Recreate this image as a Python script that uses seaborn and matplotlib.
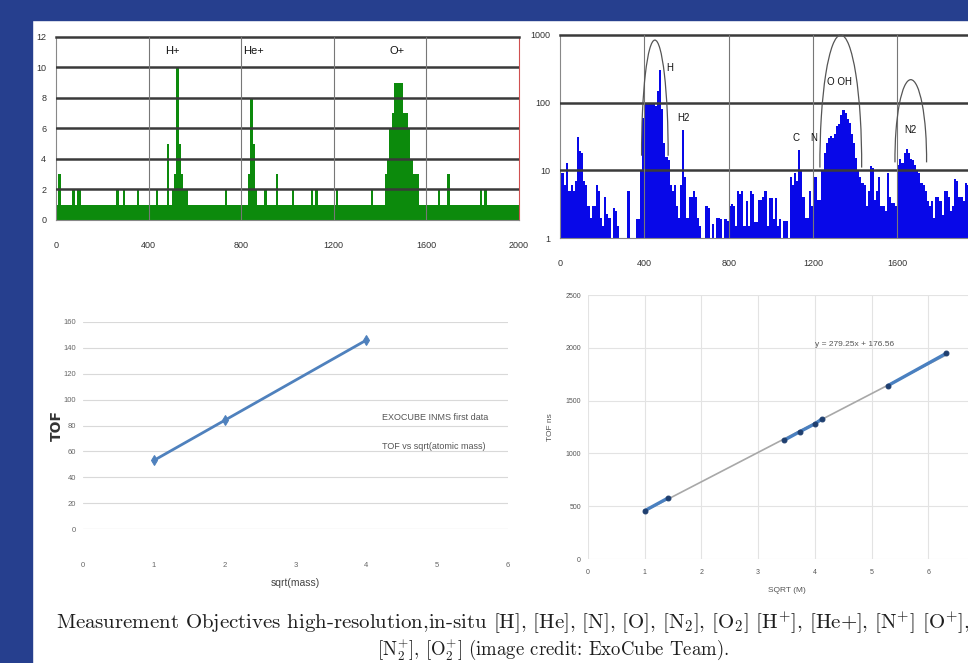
import numpy as np
import pandas as pd
import matplotlib
matplotlib.use('Agg')
import matplotlib.pyplot as plt
from matplotlib.patches import Rectangle, Arc
from matplotlib.ticker import NullLocator
import seaborn as sns

W, H = 968, 663

# ---- top left: ion spectrum, counts per 10-unit channel (0..2000)
ion_counts = [
    1, 3, 1, 1, 1, 1, 1, 2, 1, 2, 2, 1, 1, 1, 1, 1, 1, 1, 1, 1,
    1, 1, 1, 1, 1, 1, 2, 1, 1, 2, 1, 1, 1, 1, 1, 2, 1, 1, 1, 1,
    1, 1, 1, 2, 1, 1, 1, 1, 5, 1, 2, 3, 10, 5, 3, 2, 2, 1, 1, 1,
    1, 1, 1, 1, 1, 1, 1, 1, 1, 1, 1, 1, 1, 2, 1, 1, 1, 1, 1, 1,
    1, 1, 1, 3, 8, 5, 2, 1, 1, 1, 2, 1, 1, 1, 1, 3, 1, 1, 1, 1,
    1, 1, 2, 1, 1, 1, 1, 1, 1, 1, 2, 1, 2, 1, 1, 1, 1, 1, 1, 1,
    1, 2, 1, 1, 1, 1, 1, 1, 1, 1, 1, 1, 1, 1, 1, 1, 2, 1, 1, 1,
    1, 1, 3, 4, 6, 7, 9, 9, 9, 9, 7, 7, 6, 4, 3, 3, 3, 1, 1, 1,
    1, 1, 1, 1, 1, 2, 1, 1, 1, 3, 1, 1, 1, 1, 1, 1, 1, 1, 1, 1,
    1, 1, 1, 2, 1, 2, 1, 1, 1, 1, 1, 1, 1, 1, 1, 1, 1, 1, 1, 1,
]
ion_labels = ['H+', 'He+', 'O+']
ion_label_x = [501, 851, 1473]

# ---- top right: neutral spectrum (log scale), counts per 10-unit channel
neutral_counts = [
    9, 9, 6, 13, 5, 6, 5, 7, 31, 19, 18, 7, 6, 3, 2, 3, 3, 6, 5, 2,
    1.5, 4, 2.3, 2, 1, 2.8, 2.5, 1.5, 1, 1, 1, 1, 5, 1, 1, 1, 1.9, 1.9, 10, 60,
    100, 100, 95, 100, 95, 90, 150, 300, 80, 25, 16, 14, 6, 5, 6, 3, 2, 6, 40, 8,
    2, 4, 4, 5, 4, 2, 1.5, 1, 1, 3, 2.8, 1, 1.6, 1, 2, 2, 1.9, 1, 1.9, 1.8,
    3, 3.2, 3, 1.5, 4.9, 4.5, 5, 1.5, 3.5, 1.5, 5, 4.5, 1.7, 1.7, 3.7, 3.7, 4, 4.9, 1.5, 3.9,
    3.9, 1.9, 3.9, 1.5, 1.9, 1, 1.8, 1.8, 1, 8, 6, 9, 7, 20, 10, 4, 2, 2, 5, 3,
    8, 8, 3.7, 3.7, 10, 18, 25, 30, 32, 30, 35, 45, 48, 65, 78, 70, 57, 50, 35, 25,
    15, 10, 8, 6.5, 6, 3, 5, 11.6, 11, 3.7, 5, 8, 3, 3, 2.5, 9.2, 4, 3.3, 3.3, 3,
    12, 14.5, 13, 18, 20.5, 18, 14.5, 14, 12, 10, 9, 6.5, 6, 5, 3.5, 3, 3.5, 2, 4, 4,
    3.5, 2.2, 5, 5, 4, 2.5, 3, 7.4, 7, 4, 4, 3.5, 6.5, 6,
]
neutral_labels = ['H', 'H2', 'C', 'N', 'O OH', 'N2']
neutral_label_x = [522, 584, 1118, 1202, 1328, 1660]
neutral_label_y = [330, 60, 30, 30, 205, 40]

# ---- bottom left: first INMS data
inms_sqrt_mass = [1, 2, 4]
inms_tof = [53, 84, 146]

# ---- bottom right: calibration
cal_sqrt_mass = [1.0, 1.41, 3.46, 3.74, 4.0, 4.12, 5.29, 6.32]
cal_tof = [457, 577, 1125, 1207, 1280, 1324, 1642, 1948]
cal_group = [0, 0, 1, 1, 1, 1, 2, 2]

sns.set_style('white')
plt.rcParams['font.family'] = ['Liberation Sans', 'DejaVu Sans']
plt.rcParams['mathtext.fontset'] = 'cm'


def box(l, t, r, b):
    return [l / W, 1 - b / H, (r - l) / W, (b - t) / H]


fig = plt.figure(figsize=(9.68, 6.63), dpi=100)
fig.patch.set_facecolor('white')
frame = '#263f8e'
fig.add_artist(Rectangle((0, 1 - 20 / H), 1, 20 / H, transform=fig.transFigure,
                         color=frame, zorder=0))
fig.add_artist(Rectangle((0, 0), 32 / W, 1, transform=fig.transFigure,
                         color=frame, zorder=0))

ion_df = pd.DataFrame({'channel': np.arange(len(ion_counts)) * 10 + 5,
                       'counts': ion_counts})
neutral_df = pd.DataFrame({'channel': np.arange(len(neutral_counts)) * 10 + 5,
                           'counts': neutral_counts})

# ======== panel 1: ion spectrum
ax1 = fig.add_axes(box(56, 37, 519, 220))
sns.histplot(data=ion_df, x='channel', weights='counts', binwidth=10,
             binrange=(0, 2000), color='#0c8a0c', alpha=1, linewidth=0, ax=ax1)
ax1.set_xlim(0, 2000)
ax1.set_ylim(0, 12)
ax1.set_xticks(range(0, 2001, 400))
ax1.set_yticks(range(0, 13, 2))
for y in range(2, 12, 2):
    ax1.axhline(y, color='#3a3a3a', lw=1.8, zorder=3)
for x in range(400, 2000, 400):
    ax1.axvline(x, color='#777777', lw=0.8, zorder=3)
ax1.set_xlabel('')
ax1.set_ylabel('')
ax1.spines['top'].set_color('#3a3a3a')
ax1.spines['top'].set_linewidth(1.8)
ax1.spines['right'].set_color('#d05050')
ax1.spines['right'].set_linewidth(0.8)
for s in ['left', 'bottom']:
    ax1.spines[s].set_color('#888888')
    ax1.spines[s].set_linewidth(0.8)
ax1.tick_params(labelsize=6.5, colors='#333333', length=3, width=0.6, pad=12)
ax1.tick_params(axis='y', pad=4)
for lab, x in zip(ion_labels, ion_label_x):
    ax1.text(x, 11.1, lab, ha='center', va='center', fontsize=8,
             color='#111111')

# ======== panel 2: neutral spectrum (log)
ax2 = fig.add_axes(box(560, 35, 560 + 421.6, 238))
sns.histplot(data=neutral_df, x='channel', weights='counts', binwidth=10,
             binrange=(0, 2000), color='#0808e8', alpha=1, linewidth=0, ax=ax2)
ax2.set_yscale('log')
ax2.set_xlim(0, 2000)
ax2.set_ylim(1, 1000)
ax2.set_yticks([1, 10, 100, 1000])
ax2.set_yticklabels(['1', '10', '100', '1000'])
ax2.yaxis.set_minor_locator(NullLocator())
ax2.set_xticks(range(0, 1601, 400))
for y in [10, 100]:
    ax2.axhline(y, color='#3a3a3a', lw=1.8, zorder=3)
for x in range(400, 2000, 400):
    ax2.axvline(x, color='#777777', lw=0.8, zorder=3)
ax2.set_xlabel('')
ax2.set_ylabel('')
ax2.spines['top'].set_color('#3a3a3a')
ax2.spines['top'].set_linewidth(1.8)
ax2.spines['right'].set_visible(False)
for s in ['left', 'bottom']:
    ax2.spines[s].set_color('#888888')
    ax2.spines[s].set_linewidth(0.8)
ax2.tick_params(labelsize=6.5, colors='#333333', length=3, width=0.6, pad=12)
ax2.tick_params(axis='y', pad=4)
# circled peak groups (axes fraction coords)
for cx, cy, w, h in [(0.225, 0.42, 0.063, 1.11),
                     (0.666, 0.37, 0.099, 1.26),
                     (0.832, 0.39, 0.075, 0.78)]:
    ax2.add_patch(Arc((cx, cy), w, h, theta1=-25, theta2=205,
                      transform=ax2.transAxes, color='#555555', lw=0.9,
                      zorder=4, clip_on=False))
for lab, x, y in zip(neutral_labels, neutral_label_x, neutral_label_y):
    ax2.text(x, y, lab, ha='center', va='center', fontsize=7,
             color='#111111', zorder=5)

# ======== panel 3: first data TOF vs sqrt(mass)
ax3 = fig.add_axes(box(83, 322, 508, 529))
sns.lineplot(x=inms_sqrt_mass, y=inms_tof, color='#4f81bd', lw=2,
             marker='d', markersize=5, markeredgecolor='#4f81bd', ax=ax3)
ax3.set_xlim(0, 6)
ax3.set_ylim(0, 160)
ax3.set_xticks(range(0, 7))
ax3.set_yticks(range(0, 161, 20))
ax3.yaxis.grid(True, color='#d9d9d9', lw=0.8)
ax3.set_axisbelow(True)
for s in ax3.spines.values():
    s.set_visible(False)
ax3.axhline(0, color='#cfcfcf', lw=0.8, zorder=0)
ax3.tick_params(labelsize=5.5, colors='#666666', length=0, pad=5)
ax3.tick_params(axis='x', pad=24)
ax3.set_ylabel('TOF', fontsize=10, fontweight='bold', family='DejaVu Sans',
               color='#333333', labelpad=0)
ax3.set_xlabel('sqrt(mass)', fontsize=7.5, color='#444444', labelpad=6)
ax3.text(4.22, 86, 'EXOCUBE INMS first data', fontsize=6.5, color='#555555',
         va='center')
ax3.text(4.22, 64, 'TOF vs sqrt(atomic mass)', fontsize=6.5, color='#555555',
         va='center')

# ======== panel 4: calibration fit
ax4 = fig.add_axes(box(588, 295, 588 + 7 * 56.7, 559))
sns.regplot(x=cal_sqrt_mass, y=cal_tof, scatter=False, ci=None,
            truncate=True, color='#a8a8a8', line_kws={'lw': 1.2}, ax=ax4)
sns.lineplot(x=cal_sqrt_mass, y=cal_tof, units=cal_group, estimator=None,
             color='#4a80c0', lw=2.4, marker='o', markersize=3.5,
             markeredgecolor='#1f3f6f', markerfacecolor='#1f3f6f', ax=ax4)
ax4.set_xlim(0, 7)
ax4.set_ylim(0, 2500)
ax4.set_xticks(range(0, 7))
ax4.set_yticks(range(0, 2501, 500))
ax4.grid(True, color='#e3e3e3', lw=0.8)
ax4.set_axisbelow(True)
for s in ax4.spines.values():
    s.set_visible(False)
ax4.tick_params(labelsize=5, colors='#555555', length=0, pad=7)
ax4.tick_params(axis='y', pad=5)
ax4.set_ylabel('TOF ns', fontsize=6, color='#555555', labelpad=8)
ax4.set_xlabel('SQRT (M)', fontsize=6, color='#555555', labelpad=8)
ax4.text(4.0, 2030, 'y = 279.25x + 176.56', fontsize=6, color='#555555',
         va='center')

# ======== caption
cap1 = (r'Measurement Objectives high-resolution,in-situ [H], [He], [N], [O], '
        r'[$\mathrm{N}_2$], [$\mathrm{O}_2$] [$\mathrm{H}^{{+}}$], [He+], '
        r'[$\mathrm{N}^{{+}}$] [$\mathrm{O}^{{+}}$],')
cap2 = (r'[$\mathrm{N}_2^{{+}}$], [$\mathrm{O}_2^{{+}}$] '
        r'(image credit: ExoCube Team).')
fig.text(56 / W, 1 - 628 / H, cap1, family='cmr10', fontsize=15,
         color='#1e1e1e', va='baseline', ha='left')
fig.text(377 / W, 1 - 656 / H, cap2, family='cmr10', fontsize=13.5,
         color='#1e1e1e', va='baseline', ha='left')

fig.savefig('out.png', dpi=100, facecolor='white')
